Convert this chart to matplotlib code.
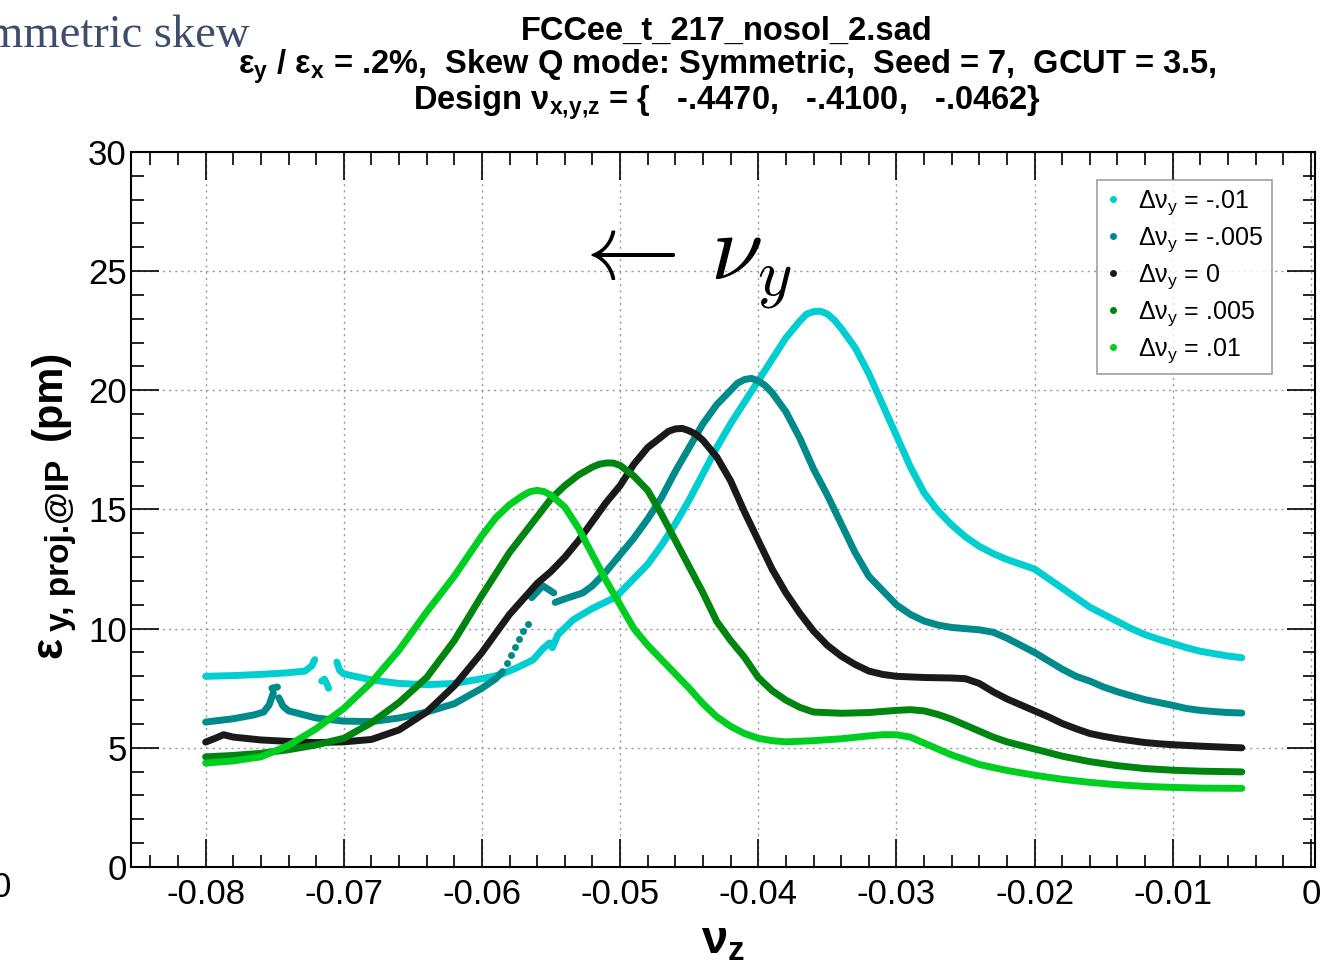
import numpy as np
import matplotlib
matplotlib.use('Agg')
from matplotlib import pyplot as plt
from matplotlib.lines import Line2D

nan = np.nan

# dnu_y = -.01
cyan_x = [-0.080, -0.078, -0.076, -0.074, -0.0728, -0.0723, -0.0721, nan,
          -0.0716, -0.0714, -0.0712, -0.0711, nan,
          -0.0705, -0.0703, -0.070, -0.068, -0.066, -0.064, -0.062, -0.060, -0.0587, -0.0575, -0.0563,
          -0.0556, -0.0551, -0.0549, -0.0545, -0.0534, -0.052, -0.0503, -0.048, -0.047, -0.046, -0.045,
          -0.044, -0.043, -0.042, -0.041, -0.040, -0.039, -0.038, -0.037, -0.0365, -0.036, -0.0355,
          -0.035, -0.0345, -0.034,
          -0.033, -0.032, -0.031, -0.030, -0.029, -0.028, -0.027, -0.026, -0.025, -0.024, -0.023,
          -0.022, -0.021, -0.020, -0.019, -0.018, -0.017, -0.016, -0.015, -0.014, -0.013, -0.012,
          -0.011, -0.010, -0.009, -0.008, -0.007, -0.006, -0.005]
cyan_y = [8.0, 8.03, 8.08, 8.15, 8.22, 8.45, 8.7, nan,
          7.8, 7.88, 7.65, 7.5, nan,
          8.6, 8.25, 8.1, 7.85, 7.7, 7.65, 7.7, 7.9, 8.06, 8.35, 8.69,
          9.15, 9.4, 9.2, 9.75, 10.37, 10.85, 11.33, 12.7, 13.5, 14.4, 15.4,
          16.5, 17.6, 18.6, 19.5, 20.4, 21.3, 22.2, 22.9, 23.2, 23.3, 23.32,
          23.2, 22.95, 22.6,
          21.8, 20.7, 19.4, 18.1, 16.8, 15.7, 14.95, 14.35, 13.85, 13.45, 13.15,
          12.9, 12.7, 12.5, 12.1, 11.7, 11.3, 10.9, 10.6, 10.3, 10.0, 9.75,
          9.55, 9.38, 9.2, 9.05, 8.95, 8.85, 8.78]

# dnu_y = -.005
teal_x = [-0.080, -0.078, -0.0765, -0.0758, -0.0754, -0.0751, nan,
          -0.0752, -0.0748, nan,
          -0.0747, -0.0744, -0.074, -0.072, -0.070, -0.068, -0.066, -0.064, -0.062, -0.060,
          -0.059, -0.0585, nan,
          -0.0564, -0.0556, -0.0548, nan,
          -0.0547, -0.054, -0.0527, -0.052, -0.051, -0.050, -0.049, -0.048, -0.047, -0.046,
          -0.045, -0.044, -0.043, -0.042, -0.0415, -0.041, -0.0405, -0.040, -0.0395, -0.039,
          -0.038, -0.037, -0.036,
          -0.035, -0.034, -0.033, -0.032, -0.031, -0.030, -0.029, -0.028, -0.027, -0.026,
          -0.025, -0.024, -0.023, -0.022, -0.021, -0.020, -0.019, -0.018, -0.017, -0.016,
          -0.015, -0.014, -0.013, -0.012, -0.011, -0.010, -0.009, -0.008, -0.007, -0.006, -0.005]
teal_y = [6.08, 6.22, 6.38, 6.5, 6.8, 7.3, nan,
          7.5, 7.55, nan,
          7.1, 6.75, 6.55, 6.25, 6.12, 6.1, 6.25, 6.5, 6.85, 7.5,
          7.9, 8.2, nan,
          11.3, 11.8, 11.5, nan,
          11.1, 11.25, 11.5, 11.8, 12.4, 13.1, 13.8, 14.6, 15.5, 16.6,
          17.6, 18.6, 19.4, 20.0, 20.3, 20.45, 20.5, 20.4, 20.2, 19.9,
          19.1, 18.0, 16.7,
          15.6, 14.4, 13.2, 12.2, 11.6, 11.0, 10.6, 10.32, 10.15, 10.05,
          10.0, 9.95, 9.85, 9.6, 9.3, 9.0, 8.65, 8.3, 8.0, 7.8,
          7.55, 7.35, 7.18, 7.02, 6.9, 6.78, 6.65, 6.57, 6.52, 6.48, 6.46]
# isolated dots between the two teal branches
teal_dots_x = [-0.0582, -0.0579, -0.0576, -0.0573, -0.0570, -0.0567]
teal_dots_y = [8.55, 8.9, 9.25, 9.55, 9.9, 10.2]

# dnu_y = 0
black_x = [-0.080, -0.0793, -0.0787, -0.078, -0.076, -0.074, -0.072, -0.070, -0.068, -0.066,
           -0.064, -0.062, -0.060, -0.058, -0.056, -0.055, -0.054, -0.053, -0.052, -0.051,
           -0.050, -0.049, -0.048, -0.047, -0.0465, -0.046, -0.0455, -0.045, -0.0445, -0.044,
           -0.043, -0.042, -0.041,
           -0.040, -0.039, -0.038, -0.037, -0.036, -0.035, -0.034, -0.033, -0.032, -0.031,
           -0.030, -0.028, -0.026, -0.025, -0.024, -0.023, -0.022, -0.021, -0.020, -0.019,
           -0.018, -0.017, -0.016, -0.015, -0.014, -0.013, -0.012, -0.011, -0.010, -0.008,
           -0.006, -0.005]
black_y = [5.24, 5.4, 5.55, 5.45, 5.33, 5.27, 5.22, 5.25, 5.35, 5.75,
           6.5, 7.6, 9.0, 10.6, 11.9, 12.4, 13.0, 13.7, 14.5, 15.3,
           16.0, 16.9, 17.6, 18.05, 18.28, 18.38, 18.4, 18.3, 18.15, 17.9,
           17.2, 16.2, 14.9,
           13.7, 12.5, 11.5, 10.65, 9.9, 9.3, 8.85, 8.5, 8.22, 8.08,
           8.0, 7.95, 7.93, 7.9, 7.7, 7.35, 7.05, 6.8, 6.55, 6.3,
           6.02, 5.8, 5.6, 5.48, 5.38, 5.3, 5.22, 5.17, 5.13, 5.07,
           5.02, 5.0]

# dnu_y = .005
dgreen_x = [-0.080, -0.078, -0.076, -0.074, -0.072, -0.070, -0.068, -0.066, -0.064, -0.062,
            -0.060, -0.058, -0.056, -0.055, -0.054, -0.053, -0.052, -0.0515, -0.051, -0.0505,
            -0.050, -0.049,
            -0.048, -0.047, -0.046, -0.045, -0.044, -0.043, -0.042, -0.041, -0.040, -0.039,
            -0.038, -0.037, -0.036, -0.034, -0.032, -0.030, -0.029, -0.028, -0.027, -0.026,
            -0.025, -0.024, -0.023, -0.022, -0.021, -0.020, -0.018, -0.016, -0.014, -0.012,
            -0.010, -0.008, -0.005]
dgreen_y = [4.62, 4.68, 4.77, 4.92, 5.12, 5.4, 6.05, 6.9, 7.95, 9.5,
            11.4, 13.2, 14.7, 15.45, 16.0, 16.45, 16.78, 16.9, 16.95, 16.95,
            16.85, 16.4,
            15.8, 14.8, 13.7, 12.6, 11.5, 10.3, 9.5, 8.8, 7.95, 7.4,
            7.0, 6.7, 6.5, 6.45, 6.48, 6.57, 6.6, 6.55, 6.4, 6.2,
            5.95, 5.7, 5.45, 5.25, 5.1, 4.95, 4.65, 4.42, 4.25, 4.13,
            4.06, 4.02, 3.99]

# dnu_y = .01
lime_x = [-0.080, -0.078, -0.076, -0.074, -0.072, -0.070, -0.068, -0.066, -0.064, -0.062,
          -0.060, -0.059, -0.058, -0.057, -0.0565, -0.056, -0.0555, -0.055, -0.054, -0.053,
          -0.052, -0.051,
          -0.050, -0.049, -0.048, -0.047, -0.046, -0.045, -0.044, -0.043, -0.042, -0.041,
          -0.040, -0.039, -0.038, -0.036, -0.034, -0.032, -0.031, -0.030, -0.029, -0.028,
          -0.027, -0.026, -0.025, -0.024, -0.022, -0.020, -0.018, -0.016, -0.014, -0.012,
          -0.010, -0.008, -0.005]
lime_y = [4.36, 4.45, 4.62, 5.1, 5.8, 6.65, 7.75, 9.1, 10.7, 12.2,
          13.9, 14.65, 15.2, 15.6, 15.75, 15.8, 15.75, 15.6, 15.1, 14.2,
          13.1, 12.0,
          11.0, 10.0, 9.3, 8.7, 8.1, 7.5, 6.85, 6.3, 5.9, 5.6,
          5.4, 5.3, 5.25, 5.3, 5.38, 5.5, 5.55, 5.55, 5.45, 5.2,
          4.95, 4.7, 4.5, 4.3, 4.05, 3.85, 3.68, 3.55, 3.45, 3.38,
          3.34, 3.31, 3.3]

labels = ['-.01', '-.005', '0', '.005', '.01']
colors = ['#00ced1', '#008a8a', '#1a1a1a', '#008510', '#00cf22']

plt.rcParams['font.family'] = ['Liberation Sans', 'DejaVu Sans']
plt.rcParams['mathtext.fontset'] = 'custom'
plt.rcParams['mathtext.rm'] = 'Liberation Sans'
plt.rcParams['mathtext.it'] = 'Liberation Sans:italic'
plt.rcParams['mathtext.bf'] = 'Liberation Sans:bold'

W, H = 1334, 966
fig = plt.figure(figsize=(W / 100, H / 100), dpi=100)
ax = fig.add_axes([0.0982, 0.1025, 0.8876, 0.7402])

series = [(cyan_x, cyan_y), (teal_x, teal_y), (black_x, black_y),
          (dgreen_x, dgreen_y), (lime_x, lime_y)]
for (xs, ys), c in zip(series, colors):
    ax.plot(xs, ys, color=c, lw=5, solid_capstyle='round', solid_joinstyle='round', zorder=3)
ax.plot(teal_dots_x, teal_dots_y, ls='none', marker='o', ms=5, mew=0, color=colors[1], zorder=3)

ax.set_xlim(-0.0854, 0.0003)
ax.set_ylim(0, 30)
ax.set_xticks(np.arange(-0.08, 0.001, 0.01))
ax.set_xticklabels(['-0.08', '-0.07', '-0.06', '-0.05', '-0.04', '-0.03', '-0.02', '-0.01', '0'])
ax.set_xticks(np.arange(-0.084, 0.001, 0.002), minor=True)
ax.set_yticks(np.arange(0, 31, 5))
ax.set_yticks(np.arange(0, 31, 1), minor=True)
ax.tick_params(which='both', direction='in', top=True, right=True, labelsize=25, width=1.2)
ax.tick_params(which='major', length=20, pad=8)
ax.tick_params(which='minor', length=9)
ax.tick_params(axis='y', which='major', pad=3)
for s in ax.spines.values():
    s.set_linewidth(1.5)
ax.grid(True, which='major', ls=(0, (1.5, 3)), color='#999999', lw=1)

ax.set_xlabel(r'$\mathbf{ν_z}$', fontsize=34, labelpad=6)

# y label built from pieces so the subscript can be larger than mathtext allows
fig.text(50 / W, 1 - 648 / H, 'ε', rotation=90, ha='center', va='center',
         fontsize=32, fontweight='bold')
fig.text(60 / W, 1 - 545 / H, 'y, proj.@IP', rotation=90, ha='center', va='center',
         fontsize=24, fontweight='bold')
fig.text(50 / W, 1 - 395 / H, '(pm)', rotation=90, ha='center', va='center',
         fontsize=30, fontweight='bold')

ax.text(-0.0537, 25.2, r'$\leftarrow\,\nu_y$', fontsize=68, math_fontfamily='cm',
        ha='left', va='center')

handles = [Line2D([], [], ls='none', marker='o', ms=4, color=c) for c in colors]
leg = ax.legend(handles, [r'$\mathrm{Δν}_\mathrm{y}$ = ' + l for l in labels],
                loc='upper right', bbox_to_anchor=(0.964, 0.961), borderaxespad=0,
                fontsize=18, frameon=True, fancybox=False, edgecolor='#888888',
                handlelength=0.6, handletextpad=0.7, labelspacing=0.33, borderpad=0.35)
leg.get_frame().set_linewidth(1.2)

cx = 0.545
tsize = 23.5
fig.text(cx, 0.968, 'FCCee_t_217_nosol_2.sad', ha='center', va='center',
         fontsize=tsize, fontweight='bold')
fig.text(cx, 0.9305, r'$\mathbf{ε_y}$ / $\mathbf{ε_x}$ = .2%,  Skew Q mode: Symmetric,  Seed = 7,  GCUT = 3.5,',
         ha='center', va='center', fontsize=tsize, fontweight='bold')
fig.text(cx, 0.8935, r'Design $\mathbf{ν_{x{,}y{,}z}}$ = {   -.4470,   -.4100,   -.0462}',
         ha='center', va='center', fontsize=tsize, fontweight='bold')

# slide text cut off at the left border
fig.text(250 / W, 0.963, 'Symmetric skew', ha='right', va='center', fontsize=33.5,
         family='Liberation Serif', color='#3d4d6b')
fig.text(-0.006, 0.081, '0', ha='left', va='center', fontsize=25)

fig.savefig('out.png', dpi=100)
